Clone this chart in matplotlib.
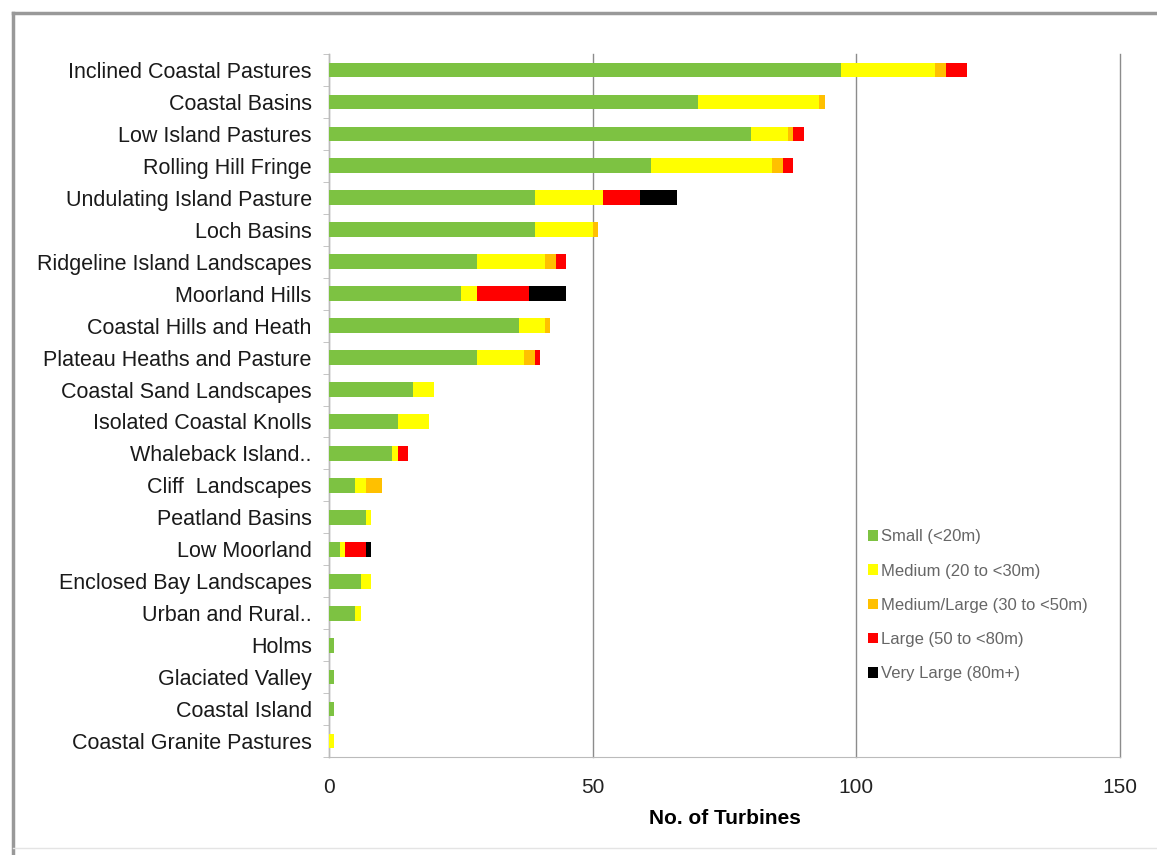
import numpy as np
import matplotlib
matplotlib.use("Agg")
import matplotlib.pyplot as plt
from matplotlib.lines import Line2D

plt.rcParams['font.family'] = ['Liberation Sans', 'DejaVu Sans']

categories = ["Inclined Coastal Pastures", "Coastal Basins", "Low Island Pastures",
              "Rolling Hill Fringe", "Undulating Island Pasture", "Loch Basins",
              "Ridgeline Island Landscapes", "Moorland Hills", "Coastal Hills and Heath",
              "Plateau Heaths and Pasture", "Coastal Sand Landscapes",
              "Isolated Coastal Knolls", "Whaleback Island..", "Cliff  Landscapes",
              "Peatland Basins", "Low Moorland", "Enclosed Bay Landscapes",
              "Urban and Rural..", "Holms", "Glaciated Valley", "Coastal Island",
              "Coastal Granite Pastures"]

small      = [97, 70, 80, 61, 39, 39, 28, 25, 36, 28, 16, 13, 12, 5, 7, 2, 6, 5, 1, 1, 1, 0]
medium     = [18, 23, 7, 23, 13, 11, 13, 3, 5, 9, 4, 6, 1, 2, 1, 1, 2, 1, 0, 0, 0, 1]
med_large  = [2, 1, 1, 2, 0, 1, 2, 0, 1, 2, 0, 0, 0, 3, 0, 0, 0, 0, 0, 0, 0, 0]
large      = [4, 0, 2, 2, 7, 0, 2, 10, 0, 1, 0, 0, 2, 0, 0, 4, 0, 0, 0, 0, 0, 0]
very_large = [0, 0, 0, 0, 7, 0, 0, 7, 0, 0, 0, 0, 0, 0, 0, 1, 0, 0, 0, 0, 0, 0]

series = [("Small (<20m)", small, "#7dc242"),
          ("Medium (20 to <30m)", medium, "#ffff00"),
          ("Medium/Large (30 to <50m)", med_large, "#ffc000"),
          ("Large (50 to <80m)", large, "#ff0000"),
          ("Very Large (80m+)", very_large, "#000000")]

fig = plt.figure(figsize=(11.57, 8.55), dpi=100)
W, H = 1157, 855
ax = fig.add_axes([329 / W, 1 - 757 / H, (1120 - 329) / W, (757 - 54) / H])

# outer frame of the chart image
fig.add_artist(Line2D([13 / W, 1], [1 - 13 / H, 1 - 13 / H], color="#999999", lw=2.5))
fig.add_artist(Line2D([13 / W, 13 / W], [0, 1 - 13 / H], color="#999999", lw=2.5))
fig.add_artist(Line2D([13 / W, 1], [1 - 848 / H, 1 - 848 / H], color="#e4e4e4", lw=1))

y = np.arange(len(categories))
left = np.zeros(len(categories))
for name, vals, col in series:
    vals = np.array(vals, dtype=float)
    ax.barh(y, vals, left=left, height=0.46, color=col, label=name, zorder=3)
    left += vals

ax.set_ylim(len(categories) - 0.5, -0.5)
ax.set_xlim(0, 150)
ax.set_xticks([0, 50, 100, 150])
ax.set_yticks(y)
ax.set_yticklabels(categories, fontsize=15.5, color="#1a1a1a")
ax.set_yticks(np.arange(-0.5, len(categories), 1), minor=True)
ax.tick_params(axis="y", which="major", length=0, pad=12.5)
ax.tick_params(axis="y", which="minor", length=4, color="#bbbbbb")
ax.tick_params(axis="x", length=0, labelsize=15, pad=15, labelcolor="#222222")
ax.xaxis.grid(True, color="#8c8c8c", lw=1.0, zorder=0)
for gl in ax.get_xgridlines():
    gl.set_clip_on(False)
for s in ["top", "right"]:
    ax.spines[s].set_visible(False)
for s in ["left", "bottom"]:
    ax.spines[s].set_color("#bbbbbb")
ax.set_xlabel("No. of Turbines", fontsize=15, fontweight="bold", labelpad=9)

leg = ax.legend(loc="upper left", bbox_to_anchor=(0.662, 0.345), frameon=False,
                fontsize=12, handlelength=0.6, handleheight=0.6, handletextpad=0.2,
                labelspacing=1.15)
for t in leg.get_texts():
    t.set_color("#666666")

fig.savefig("out.png", dpi=100, facecolor="white")
